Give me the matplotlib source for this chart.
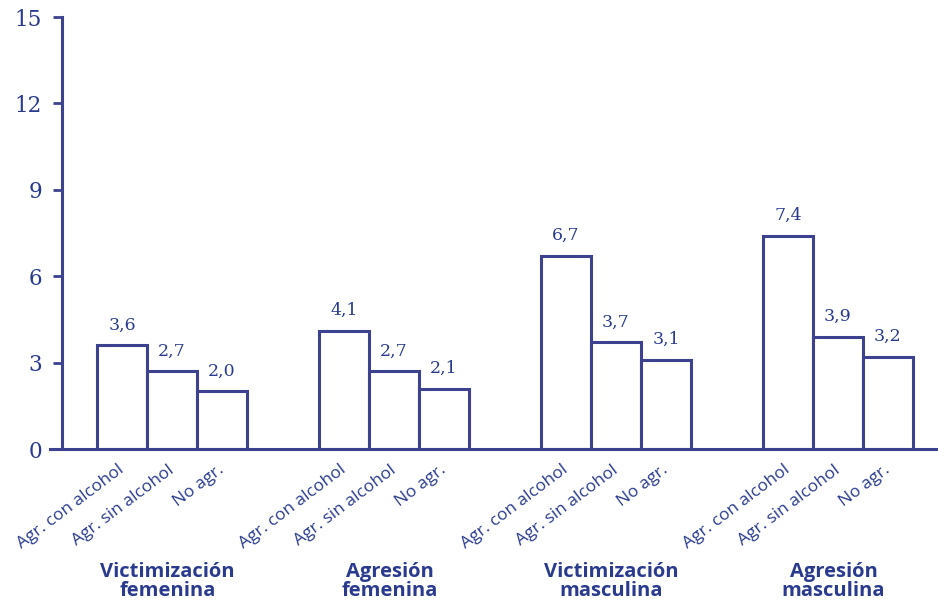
import matplotlib
matplotlib.use("Agg")
import matplotlib.pyplot as plt
import numpy as np

# values
groups = ["Victimización\nfemenina", "Agresión\nfemenina",
          "Victimización\nmasculina", "Agresión\nmasculina"]
categories = ["Agr. con alcohol", "Agr. sin alcohol", "No agr."]
con_alcohol = [3.6, 4.1, 6.7, 7.4]
sin_alcohol = [2.7, 2.7, 3.7, 3.9]
no_agr = [2.0, 2.1, 3.1, 3.2]
yticks = [0, 3, 6, 9, 12, 15]

blue_text = "#2a3b8f"
blue_line = "#3c4190"

plt.rcParams["font.family"] = "DejaVu Serif"

fig = plt.figure(figsize=(9.38, 6.05), dpi=100)
ax = fig.add_axes([50 / 938, 1 - 449 / 605, 1 - 50 / 938, (449 - 17) / 605])

w = 0.225
x = np.arange(len(groups))
series = [con_alcohol, sin_alcohol, no_agr]

for i, vals in enumerate(series):
    pos = x + (i - 1) * w
    ax.bar(pos, vals, width=w, color="white", edgecolor=blue_line,
           linewidth=2.2, zorder=2)
    for p, v in zip(pos, vals):
        ax.annotate(f"{v:.1f}".replace(".", ","), (p, v), xytext=(0, 8.5),
                    textcoords="offset points", ha="center", va="bottom",
                    fontsize=12.5, color=blue_text)
        ax.text(p - 0.02, -0.45, categories[i], rotation=37, ha="right", va="top",
                rotation_mode="anchor", fontsize=12.5, family="Open Sans",
                color=blue_text)

for xi, g in zip(x, groups):
    ax.text(xi - 0.02, -0.306, g, transform=ax.get_xaxis_transform(), ha="center",
            va="center", fontsize=14.5, family="Open Sans", fontweight="bold",
            color=blue_text, linespacing=0.95)

ax.set_xlim(-0.5495, 3.4505)
ax.set_ylim(0, 15)
ax.set_yticks(yticks)
ax.set_xticks([])
ax.tick_params(axis="y", length=6.5, width=2, color=blue_line, pad=8,
               labelsize=15.5, labelcolor=blue_text)

ax.spines["top"].set_visible(False)
ax.spines["right"].set_visible(False)
ax.spines["left"].set_position(("data", -0.495))
ax.spines["left"].set_color(blue_line)
ax.spines["left"].set_linewidth(2.2)
ax.spines["bottom"].set_color(blue_line)
ax.spines["bottom"].set_linewidth(2.2)
ax.spines["bottom"].set_zorder(3)

fig.savefig("out.png", dpi=100)
